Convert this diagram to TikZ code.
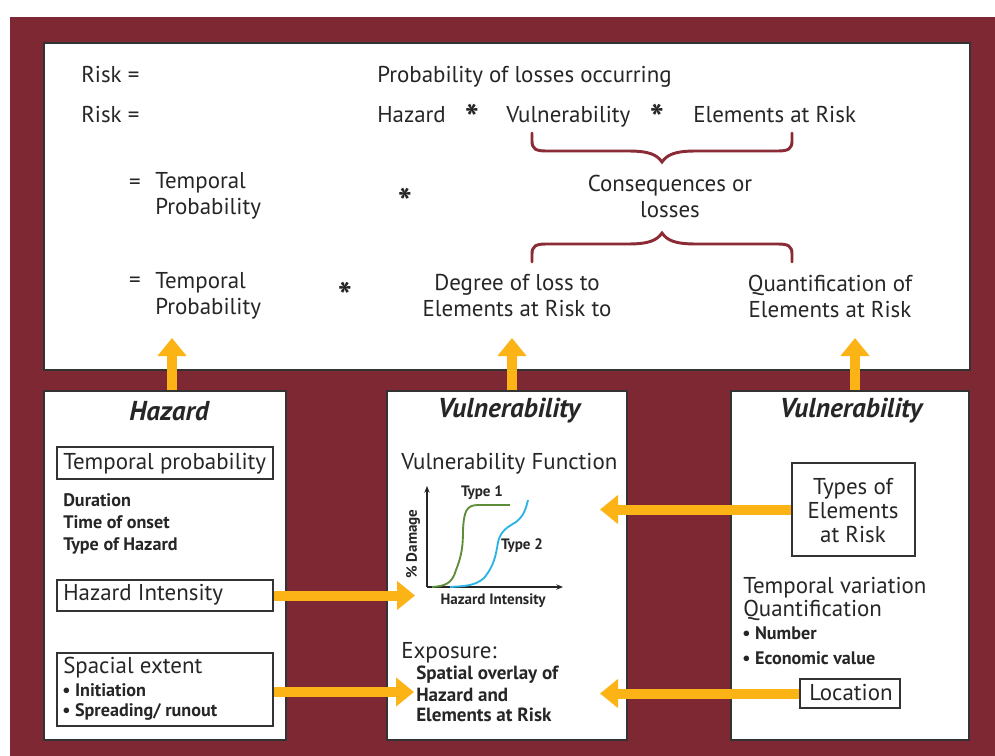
\documentclass[tikz,border=0pt]{standalone}
\usepackage{fontspec}
\setmainfont{PT Sans}
\usetikzlibrary{arrows.meta,fit}
\definecolor{maroon}{HTML}{7D2832}
\definecolor{bracec}{HTML}{8A2B35}
\definecolor{orng}{HTML}{FCB316}
\definecolor{edge}{HTML}{333333}
\definecolor{gcurve}{HTML}{5E8E3A}
\definecolor{bcurve}{HTML}{2DB4E6}
\newcommand{\fbig}{\fontsize{17.2pt}{19.5pt}\selectfont}
\newcommand{\fmid}{\fontsize{14.3pt}{15pt}\selectfont}
\newcommand{\fsmall}{\fontsize{13.6pt}{15pt}\selectfont\bfseries}
\newcommand{\ftiny}{\fontsize{11.3pt}{12pt}\selectfont\bfseries}
\newcommand{\ftitle}{\fontsize{20.5pt}{22pt}\selectfont\bfseries\itshape}
\newcommand{\fstar}{\fontsize{28pt}{28pt}\selectfont\bfseries}
\tikzset{
  panel/.style={draw=edge, line width=1.2pt, fill=white, inner sep=0pt},
  ibox/.style={draw=edge, line width=1pt, inner sep=0pt},
  txt/.style={inner sep=0pt, text=black!85, font=\fbig},
  ltxt/.style={txt, anchor=west},
  btxt/.style={txt, anchor=base west},
  startxt/.style={txt, font=\fstar, anchor=north},
  arr/.style={draw=orng, line width=7.5pt, -{Triangle[width=21pt,length=13.5pt]}},
  bracepath/.style={draw=bracec, line width=2.2pt, line cap=round},
  axis/.style={draw=black!85, line width=1.1pt, -{Stealth[length=5pt,width=4pt]}},
}
\begin{document}
\begin{tikzpicture}[x=0.75pt,y=-0.75pt]
\useasboundingbox (0,0) rectangle (995,756);
\fill[maroon] (10,17) rectangle (995,756);

% panels
\node[panel, fit={(44,43) (970,370)}] (top) {};
\node[panel, fit={(44,391) (286,740)}] (hzp) {};
\node[panel, fit={(387,391) (627,740)}] (vmp) {};
\node[panel, fit={(731,391) (969,740)}] (vrp) {};

% top panel text
\node[btxt] (r1) at (81,83) {Risk =};
\node[btxt] (r2) at (81,123) {Risk =};
\node[btxt] (p1) at (377,83) {Probability of losses occurring};
\node[btxt] (hz) at (377,123) {Hazard};
\node[startxt] (s1) at (472,104) {*};
\node[btxt] (vu) at (506,123) {Vulnerability};
\node[startxt] (s2) at (657,104) {*};
\node[btxt] (ear) at (693,123) {Elements at Risk};
\node[txt] (e3) at (135,184) {=};
\node[ltxt, align=left] (tp3) at (155,196) {Temporal\\Probability};
\node[startxt] (s3) at (405,188) {*};
\node[txt, align=center] (cons) at (670,196) {Consequences or\\losses};
\node[txt] (e4) at (135,282) {=};
\node[ltxt, align=left] (tp4) at (155,296) {Temporal\\Probability};
\node[startxt] (s4) at (345,282) {*};
\node[txt, align=center] (deg) at (517,296) {Degree of loss to\\Elements at Risk to};
\node[txt, align=center] (quant) at (830,296) {Quantification of\\Elements at Risk};

% braces
\draw[bracepath] (532,133) -- (532,141) .. controls (532,149) and (536,151) .. (546,151)
  -- (628,151) .. controls (650,151) and (657,155) .. (662,162)
  .. controls (667,155) and (674,151) .. (696,151) -- (778,151)
  .. controls (788,151) and (792,149) .. (792,141) -- (792,133);
\draw[bracepath] (532,262) -- (532,254) .. controls (532,246) and (536,244) .. (546,244)
  -- (628,244) .. controls (650,244) and (657,240) .. (662,233)
  .. controls (667,240) and (674,244) .. (696,244) -- (778,244)
  .. controls (788,244) and (792,246) .. (792,254) -- (792,262);

% Hazard panel
\node[txt, font=\ftitle] (hzt) at (169,411) {Hazard};
\node[ibox, fit={(57,447) (273,479)}] (tpb) {};
\node[ltxt] (tpt) at (63,464) {Temporal probability};
\node[ltxt, font=\fsmall] (dur) at (63,500) {Duration};
\node[ltxt, font=\fsmall] (ton) at (63,522) {Time of onset};
\node[ltxt, font=\fsmall] (toh) at (63,546) {Type of Hazard};
\node[ibox, fit={(57,580) (273,611)}] (hib) {};
\node[ltxt] (hit) at (63,595) {Hazard Intensity};
\node[ibox, fit={(57,653) (273,726)}] (seb) {};
\node[ltxt] (set) at (63,668) {Spacial extent};
\node[ltxt, font=\fsmall] (ini) at (62,690) {\textbullet\ Initiation};
\node[ltxt, font=\fsmall] (spr) at (62,712) {\textbullet\ Spreading/ runout};

% middle panel
\node[txt, font=\ftitle] (vmt) at (509,411) {Vulnerability};
\node[ltxt] (vft) at (401,464) {Vulnerability Function};
\coordinate (orig) at (427,587);
\coordinate (yend) at (427,486);
\coordinate (xend) at (563,587);
\draw[axis] (orig) -- (yend);
\draw[axis] (orig) -- (xend);
\draw[gcurve, line width=1.4pt] (432,587) .. controls (445,586) and (452,584) .. (456,570)
  .. controls (462,555) and (463,545) .. (463,530)
  .. controls (464,512) and (466,505) .. (478,505) -- (510,505);
\draw[bcurve, line width=1.4pt] (450,587) .. controls (465,586) and (475,586) .. (484,578)
  .. controls (494,566) and (496,555) .. (498,542)
  .. controls (501,530) and (508,527) .. (516,522)
  .. controls (524,516) and (526,508) .. (528,500);
\node[txt, font=\ftiny, rotate=90] (dmg) at (413,544) {\% Damage};
\node[txt, font=\ftiny] (hzi) at (493,601) {Hazard Intensity};
\node[txt, font=\ftiny] (ty1) at (482,493) {Type 1};
\node[txt, font=\ftiny] (ty2) at (522,546) {Type 2};
\node[ltxt] (exp) at (401,653) {Exposure:};
\node[ltxt, font=\fmid\bfseries] (so1) at (416,675) {Spatial overlay of};
\node[ltxt, font=\fmid\bfseries] (so2) at (416,695) {Hazard and};
\node[ltxt, font=\fmid\bfseries] (so3) at (416,715) {Elements at Risk};

% right panel
\node[txt, font=\ftitle] (vrt) at (851,411) {Vulnerability};
\node[ibox, fit={(792,463) (915,556)}] (teb) {};
\node[txt, align=center, font=\fontsize{17.2pt}{18pt}\selectfont] (tet) at (853,511) {Types of\\Elements\\at Risk};
\node[ltxt] (tv) at (743,588) {Temporal variation};
\node[ltxt] (qf) at (743,610) {Quantification};
\node[ltxt, font=\fsmall] (num) at (742,633) {\textbullet\ Number};
\node[ltxt, font=\fsmall] (eco) at (742,658) {\textbullet\ Economic value};
\node[ibox, fit={(800,679) (900,708)}] (lob) {};
\node[txt] (lot) at (851,693) {Location};

% arrows
\coordinate (u1) at (172,338);
\coordinate (u2) at (512,338);
\coordinate (u3) at (855,338);
\draw[arr] (hzp.north -| u1) -- (u1);
\draw[arr] (vmp.north -| u2) -- (u2);
\draw[arr] (vrp.north -| u3) -- (u3);
\coordinate (h1) at (415,595.5);
\coordinate (h2) at (414,692);
\coordinate (h3) at (600,509.5);
\coordinate (h4) at (600,693.5);
\draw[arr] (hib.east) -- (h1);
\draw[arr] (seb.east |- h2) -- (h2);
\draw[arr] (teb.west) -- (h3);
\draw[arr] (lob.west) -- (h4);
\end{tikzpicture}
\end{document}
